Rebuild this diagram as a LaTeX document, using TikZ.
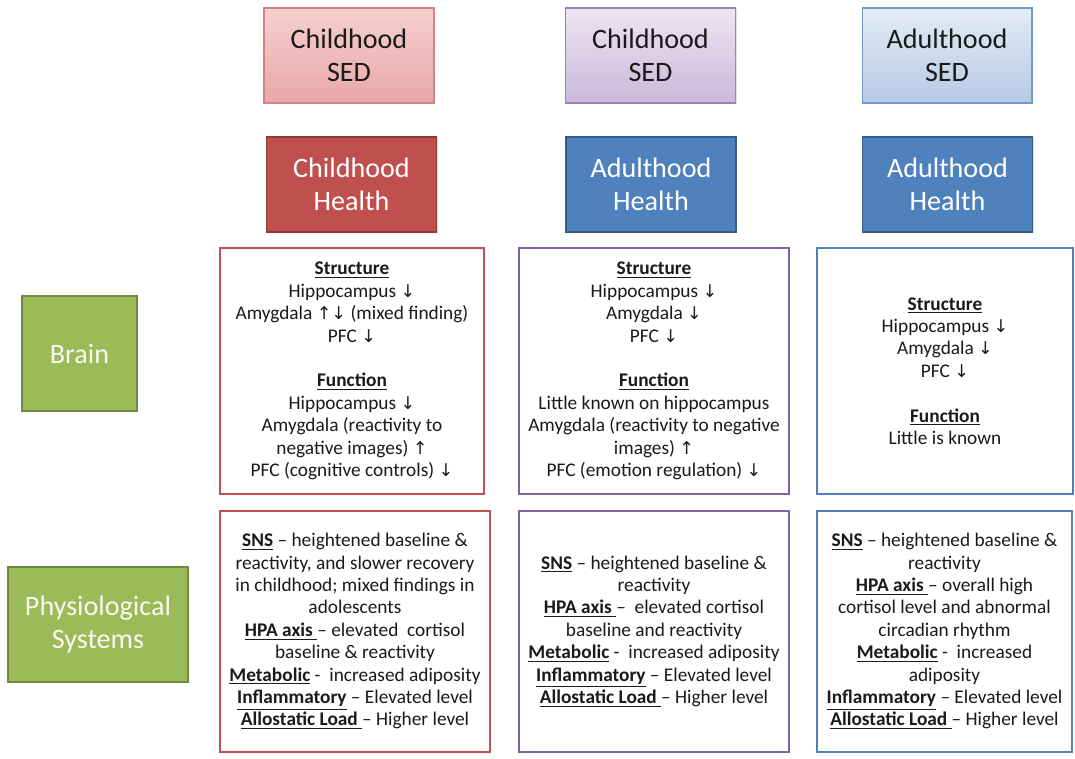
\documentclass[tikz,border=0pt]{standalone}
\usepackage{fontspec}
\setmainfont{Carlito}
\newfontfamily\arrfont{DejaVu Sans}
\usetikzlibrary{shadows}

\definecolor{redtop}{HTML}{F5D0CF}
\definecolor{redbot}{HTML}{E8A7A6}
\definecolor{redline}{HTML}{C0504D}
\definecolor{redfill}{HTML}{C0504D}
\definecolor{reddark}{HTML}{8C3836}
\definecolor{purtop}{HTML}{ECE5F1}
\definecolor{purbot}{HTML}{CBB8DA}
\definecolor{purline}{HTML}{8064A2}
\definecolor{blutop}{HTML}{E3EBF5}
\definecolor{blubot}{HTML}{B6CBE6}
\definecolor{bluline}{HTML}{4F81BD}
\definecolor{blufill}{HTML}{4F81BD}
\definecolor{bludark}{HTML}{385D8A}
\definecolor{grnfill}{HTML}{9BBB59}
\definecolor{grndark}{HTML}{71893F}
\definecolor{ink}{HTML}{1A1A1A}

\newcommand{\arrdn}{{\arrfont\fontsize{10}{10}\selectfont ↓}}
\newcommand{\arrup}{{\arrfont\fontsize{10}{10}\selectfont ↑}}
\newcommand{\lab}[1]{\underline{\textbf{#1}}}

\begin{document}
\begin{tikzpicture}[x=0.02cm,y=-0.02cm,
    hdr/.style={draw, line width=0.6pt, minimum width=3.4cm, minimum height=1.9cm,
                align=center, font=\fontsize{16}{19}\selectfont,
                drop shadow={shadow xshift=0.8pt, shadow yshift=-0.8pt, opacity=0.25}},
    sed/.style n args={3}{hdr, draw=#1, top color=#2, bottom color=#3, text=ink},
    hlth/.style n args={2}{hdr, draw=#1, fill=#2, text=white},
    side/.style={draw=grndark, line width=0.6pt, fill=grnfill, text=white!92!grnfill,
                 minimum height=2.3cm, align=center, font=\fontsize{16}{19}\selectfont,
                 drop shadow={shadow xshift=0.8pt, shadow yshift=-0.8pt, opacity=0.25}},
    info/.style={draw=#1, line width=1.1pt, fill=white, align=center, text=ink,
                 font=\fontsize{11}{12.75}\selectfont}]

\useasboundingbox (0,0) rectangle (1075,758);

% exposure row
\node[sed={redline!70}{redtop}{redbot}]    (sedA) at (349,55.5)  {Childhood\\SED};
\node[sed={purline!80}{purtop}{purbot}]    (sedB) at (650.5,55.5) {Childhood\\SED};
\node[sed={bluline!80}{blutop}{blubot}]    (sedC) at (947,55.5)  {Adulthood\\SED};

% outcome row
\node[hlth={reddark}{redfill}] (hlthA) at (351.5,184.5) {Childhood\\Health};
\node[hlth={bludark}{blufill}] (hlthB) at (651,184.5)   {Adulthood\\Health};
\node[hlth={bludark}{blufill}] (hlthC) at (947.5,184.5) {Adulthood\\Health};

% row labels
\node[side, minimum width=2.3cm] (brain) at (79.5,353.5) {Brain};
\node[side, minimum width=3.6cm] (phys)  at (98,624.5)   {Physiological\\Systems};

% brain findings
\node[info=redline, minimum width=5.28cm, minimum height=4.92cm] (brA) at (352,371) {%
  \lab{Structure}\\
  Hippocampus \arrdn\\
  Amygdala \arrup\arrdn{} (mixed finding)\\
  PFC \arrdn\\[12.75pt]
  \lab{Function}\\
  Hippocampus \arrdn\\
  Amygdala (reactivity to\\
  negative images) \arrup\\
  PFC (cognitive controls) \arrdn};
\node[info=purline, minimum width=5.4cm, minimum height=4.92cm] (brB) at (654,371) {%
  \lab{Structure}\\
  Hippocampus \arrdn\\
  Amygdala \arrdn\\
  PFC \arrdn\\[12.75pt]
  \lab{Function}\\
  Little known on hippocampus\\
  Amygdala (reactivity to negative\\
  images) \arrup\\
  PFC (emotion regulation) \arrdn};
\node[info=bluline, minimum width=5.12cm, minimum height=4.92cm] (brC) at (945,371) {%
  \lab{Structure}\\
  Hippocampus \arrdn\\
  Amygdala \arrdn\\
  PFC \arrdn\\[12.75pt]
  \lab{Function}\\
  Little is known};

% physiological findings
\node[info=redline, minimum width=5.4cm, minimum height=4.82cm] (phA) at (355,631.5) {%
  \lab{SNS} -- heightened baseline \&\\
  reactivity, and slower recovery\\
  in childhood; mixed findings in\\
  adolescents\\
  \lab{HPA axis\ }-- elevated\ \ cortisol\\
  baseline \& reactivity\\
  \lab{Metabolic} -\ \ increased adiposity\\
  \lab{Inflammatory} -- Elevated level\\
  \lab{Allostatic Load\ }-- Higher level};
\node[info=purline, minimum width=5.4cm, minimum height=4.82cm] (phB) at (654,631.5) {%
  \lab{SNS} -- heightened baseline \&\\
  reactivity\\
  \lab{HPA axis\ }--\ \ elevated cortisol\\
  baseline and reactivity\\
  \lab{Metabolic} -\ \ increased adiposity\\
  \lab{Inflammatory} -- Elevated level\\
  \lab{Allostatic Load\ }-- Higher level};
\node[info=bluline, minimum width=5.1cm, minimum height=4.82cm] (phC) at (944.5,631.5) {%
  \lab{SNS} -- heightened baseline \&\\
  reactivity\\
  \lab{HPA axis\ }-- overall high\\
  cortisol level and abnormal\\
  circadian rhythm\\
  \lab{Metabolic} -\ \ increased\\
  adiposity\\
  \lab{Inflammatory} -- Elevated level\\
  \lab{Allostatic Load\ }-- Higher level};

\end{tikzpicture}
\end{document}
